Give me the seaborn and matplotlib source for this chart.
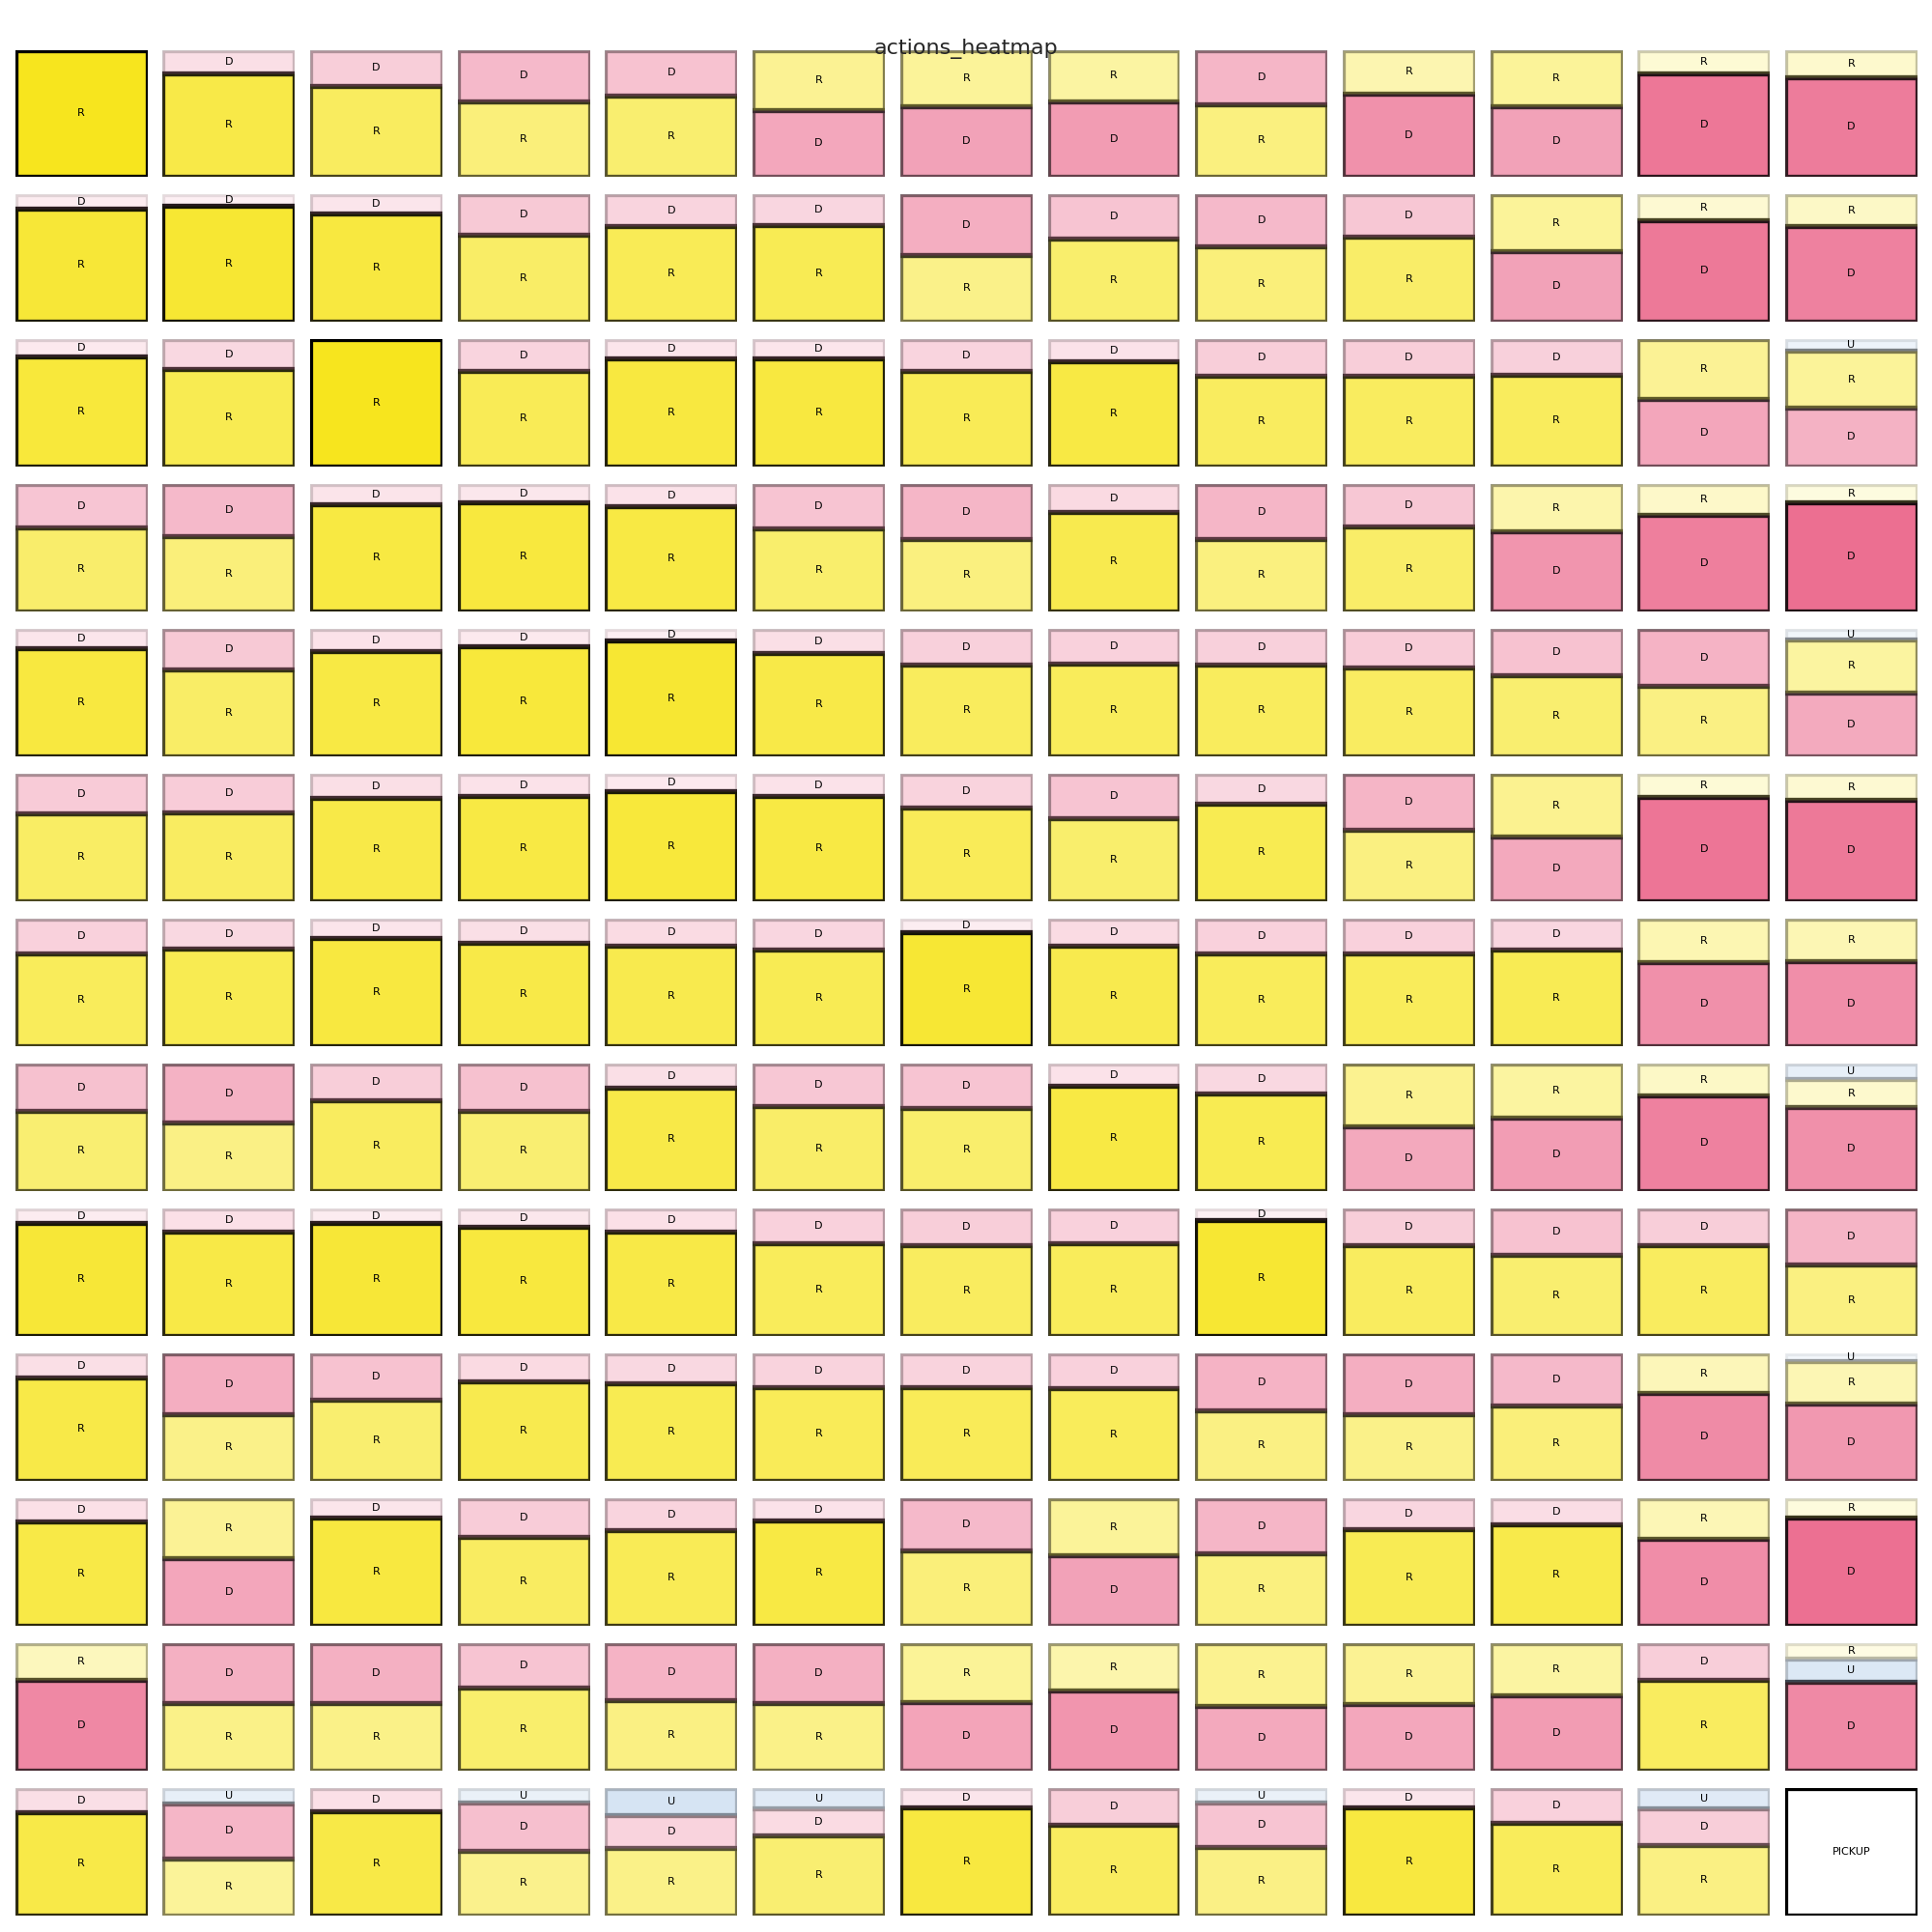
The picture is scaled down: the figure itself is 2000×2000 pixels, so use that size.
import matplotlib
matplotlib.use("Agg")
import matplotlib.pyplot as plt
import seaborn as sns

TITLE = "actions_heatmap"
ACTIONS = ["R", "D", "U"]
ACTION_COLORS = {"R": "#F7E51E", "D": "#E9577F", "U": "#4182C8"}
PICKUP_CELL = (12, 12)
PICKUP_LABEL = "PICKUP"

R_PROB = [
    [1.00, .81, .71, .59, .64, .48, .45, .41, .57, .35, .45, .19, .22],
    [.89, .91, .85, .68, .75, .76, .52, .65, .59, .67, .45, .20, .25],
    [.87, .77, 1.0, .75, .85, .85, .75, .83, .71, .71, .72, .47, .45],
    [.66, .59, .84, .86, .83, .65, .57, .78, .57, .67, .37, .24, .14],
    [.85, .68, .83, .87, .91, .81, .72, .73, .72, .70, .64, .55, .42],
    [.69, .70, .81, .83, .87, .83, .74, .65, .77, .56, .49, .18, .20],
    [.73, .77, .85, .81, .79, .76, .90, .79, .73, .73, .76, .34, .33],
    [.63, .54, .71, .63, .81, .67, .65, .83, .77, .49, .42, .25, .22],
    [.89, .82, .89, .86, .82, .73, .71, .73, .91, .71, .64, .71, .56],
    [.81, .52, .64, .78, .77, .74, .74, .73, .55, .52, .59, .31, .33],
    [.82, .47, .85, .70, .75, .83, .59, .45, .57, .76, .80, .32, .15],
    [.29, .53, .53, .65, .55, .53, .46, .37, .49, .48, .41, .71, .12],
    [.81, .45, .82, .51, .53, .63, .85, .71, .54, .85, .73, .55, 0.0],
]
D_PROB = [
    [0.0, .19, .29, .41, .36, .52, .55, .59, .43, .65, .55, .81, .78],
    [.11, .09, .15, .32, .25, .24, .48, .35, .41, .33, .55, .80, .75],
    [.13, .23, 0.0, .25, .15, .15, .25, .17, .29, .29, .28, .53, .46],
    [.34, .41, .16, .14, .17, .35, .43, .22, .43, .33, .63, .76, .86],
    [.15, .32, .17, .13, .09, .19, .28, .27, .28, .30, .36, .45, .50],
    [.31, .30, .19, .17, .13, .17, .26, .35, .23, .44, .51, .82, .80],
    [.27, .23, .15, .19, .21, .24, .10, .21, .27, .27, .24, .66, .67],
    [.37, .46, .29, .37, .19, .33, .35, .17, .23, .51, .58, .75, .66],
    [.11, .18, .11, .14, .18, .27, .29, .27, .09, .29, .36, .29, .44],
    [.19, .48, .36, .22, .23, .26, .26, .27, .45, .48, .41, .69, .61],
    [.18, .53, .15, .30, .25, .17, .41, .55, .43, .24, .20, .68, .85],
    [.71, .47, .47, .35, .45, .47, .54, .63, .51, .52, .59, .29, .70],
    [.19, .43, .18, .38, .26, .21, .15, .29, .35, .15, .27, .29, 0.0],
]
U_PROB = [
    [0, 0, 0, 0, 0, 0, 0, 0, 0, 0, 0, 0, 0],
    [0, 0, 0, 0, 0, 0, 0, 0, 0, 0, 0, 0, 0],
    [0, 0, 0, 0, 0, 0, 0, 0, 0, 0, 0, 0, .09],
    [0, 0, 0, 0, 0, 0, 0, 0, 0, 0, 0, 0, 0],
    [0, 0, 0, 0, 0, 0, 0, 0, 0, 0, 0, 0, .08],
    [0, 0, 0, 0, 0, 0, 0, 0, 0, 0, 0, 0, 0],
    [0, 0, 0, 0, 0, 0, 0, 0, 0, 0, 0, 0, 0],
    [0, 0, 0, 0, 0, 0, 0, 0, 0, 0, 0, 0, .12],
    [0, 0, 0, 0, 0, 0, 0, 0, 0, 0, 0, 0, 0],
    [0, 0, 0, 0, 0, 0, 0, 0, 0, 0, 0, 0, .06],
    [0, 0, 0, 0, 0, 0, 0, 0, 0, 0, 0, 0, 0],
    [0, 0, 0, 0, 0, 0, 0, 0, 0, 0, 0, 0, .18],
    [0, .12, 0, .11, .21, .16, 0, 0, .11, 0, 0, .16, 0],
]

sns.set_theme(style="white")
plt.rcParams["font.family"] = ["DejaVu Sans"]

n_rows, n_cols = len(R_PROB), len(R_PROB[0])
fig, axes = plt.subplots(n_rows, n_cols, figsize=(20, 20), dpi=100)
fig.subplots_adjust(left=0.0078, right=0.9925, top=0.97425, bottom=0.00875,
                    wspace=0.1146, hspace=0.145)

LW = 3.8
for r in range(n_rows):
    for c in range(n_cols):
        ax = axes[r, c]
        ax.set_xlim(-0.5, 0.5)
        ax.set_ylim(0, 1)
        ax.axis("off")
        if (r, c) == PICKUP_CELL:
            ax.bar(0, 1, width=1, bottom=0, color="white", edgecolor="black",
                   linewidth=LW, clip_on=True)
            ax.text(0, 0.5, PICKUP_LABEL, ha="center", va="center", fontsize=8,
                    color="black")
            continue
        probs = {"R": R_PROB[r][c], "D": D_PROB[r][c], "U": U_PROB[r][c]}
        items = sorted([(a, p) for a, p in probs.items() if p > 0],
                       key=lambda t: -t[1])
        total = sum(p for _, p in items)
        bottom = 0.0
        for a, p in items:
            h = p / total
            ax.bar(0, h, width=1, bottom=bottom, color=ACTION_COLORS[a],
                   alpha=p, edgecolor="black", linewidth=LW, clip_on=True)
            ax.text(0, bottom + h / 2, a, ha="center", va="center",
                    fontsize=8, color="black")
            bottom += h

fig.suptitle(TITLE, fontsize=16)
fig.savefig("out.png", dpi=100)
